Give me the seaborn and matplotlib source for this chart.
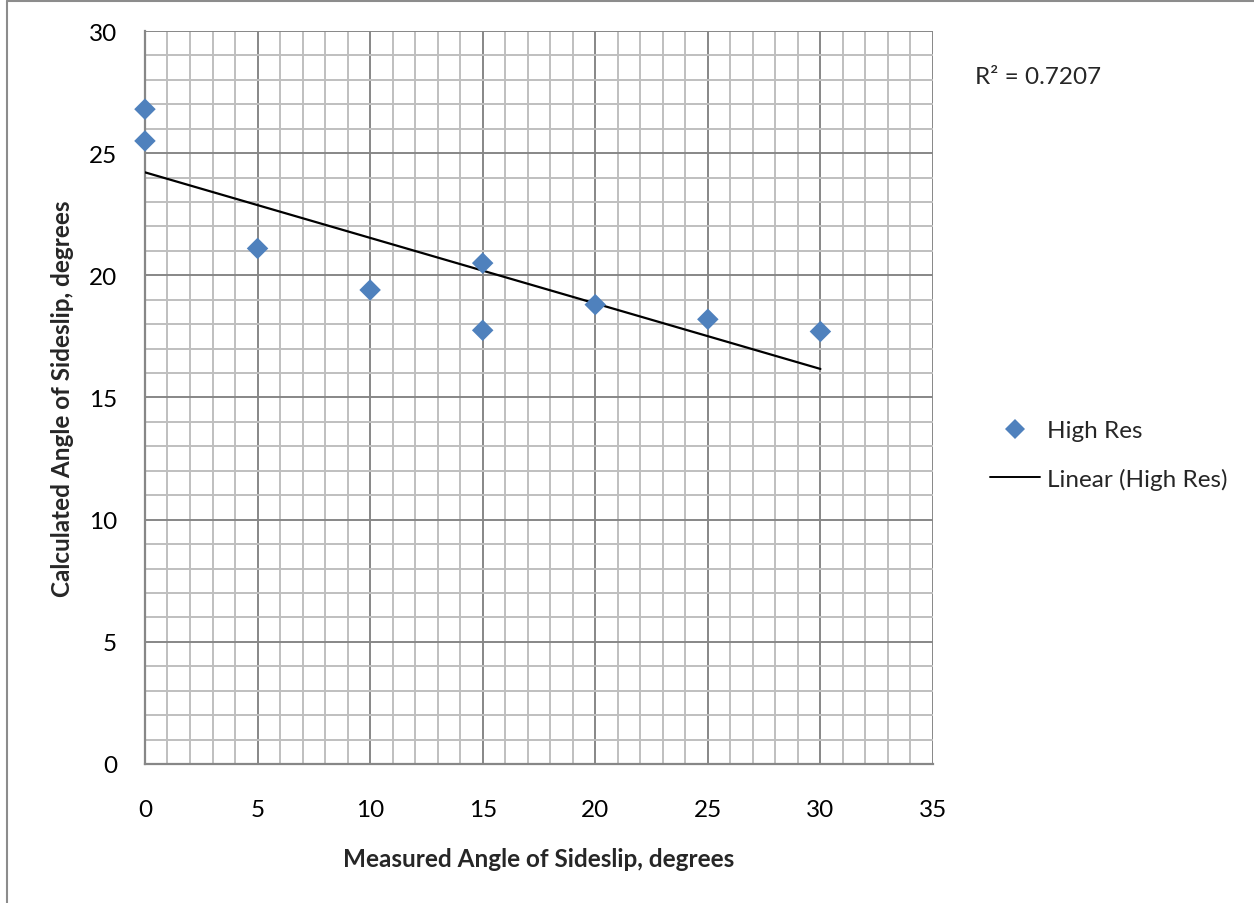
import numpy as np
import pandas as pd
import matplotlib
matplotlib.use("Agg")
import matplotlib.pyplot as plt
import seaborn as sns
from matplotlib.lines import Line2D

# measured vs calculated sideslip
measured = [0, 0, 5, 10, 15, 15, 20, 25, 30]
calculated = [26.8, 25.5, 21.1, 19.4, 20.5, 17.75, 18.8, 18.2, 17.7]
x_ticks = [0, 5, 10, 15, 20, 25, 30, 35]
y_ticks = [0, 5, 10, 15, 20, 25, 30]
r2_label = "R² = 0.7207"

df = pd.DataFrame({"measured": measured, "calculated": calculated})

sns.set_style("white")
plt.rcParams["font.family"] = ["Lato", "DejaVu Sans"]
FS = 17.5

fig = plt.figure(figsize=(12.54, 9.04), dpi=100)
ax = fig.add_axes([0.1156, 0.1538, 0.6284, 0.8108])

blue = "#4F81BD"
sns.scatterplot(data=df, x="measured", y="calculated", marker="D", s=120,
                color=blue, edgecolor="none", ax=ax, zorder=4, clip_on=False)

# linear trendline over the data range
slope, intercept = np.polyfit(df["measured"], df["calculated"], 1)
xs = np.array([df["measured"].min(), df["measured"].max()])
ax.plot(xs, slope * xs + intercept, color="black", lw=1.6, zorder=3)

ax.set_xlim(0, 35)
ax.set_ylim(0, 30)
ax.set_xticks(x_ticks)
ax.set_yticks(y_ticks)
ax.set_xticks(np.arange(0, 36, 1), minor=True)
ax.set_yticks(np.arange(0, 31, 1), minor=True)
ax.grid(which="minor", color="#BFBFBF", lw=1.4, zorder=0)
ax.grid(which="major", color="#878787", lw=1.4, zorder=1)
ax.set_axisbelow(True)
ax.tick_params(which="both", length=0, labelsize=FS, colors="black")
ax.tick_params(axis="x", pad=25)
ax.tick_params(axis="y", pad=20)
for s in ["top", "right"]:
    ax.spines[s].set_visible(False)
for s in ["left", "bottom"]:
    ax.spines[s].set_color("#878787")
    ax.spines[s].set_linewidth(1.6)

ax.set_xlabel("Measured Angle of Sideslip, degrees", fontsize=FS,
              fontweight="bold")
ax.set_ylabel("Calculated Angle of Sideslip, degrees", fontsize=FS,
              fontweight="bold")
ax.xaxis.set_label_coords(0.5, -0.113)
ax.yaxis.set_label_coords(-0.09, 0.5)

fig.text(975 / 1254, 1 - 78 / 904, r2_label, fontsize=FS, va="center")

handles = [
    Line2D([], [], marker="D", color=blue, linestyle="none", markersize=10,
           markeredgewidth=0),
    Line2D([], [], color="black", lw=1.4),
]
fig.legend(handles, ["High Res", "Linear (High Res)"], loc="center left",
           bbox_to_anchor=(968 / 1254, 1 - 456 / 904), frameon=False,
           fontsize=FS, handlelength=2.05, handletextpad=0.3,
           labelspacing=1.1)

# outer chart border (left and top edges visible)
fig.add_artist(Line2D([0.0055, 0.0055], [0, 0.9975], color="#8C8C8C",
                      lw=1.5, transform=fig.transFigure))
fig.add_artist(Line2D([0.0055, 1], [0.9975, 0.9975], color="#8C8C8C",
                      lw=1.5, transform=fig.transFigure))

fig.savefig("out.png", dpi=100)
